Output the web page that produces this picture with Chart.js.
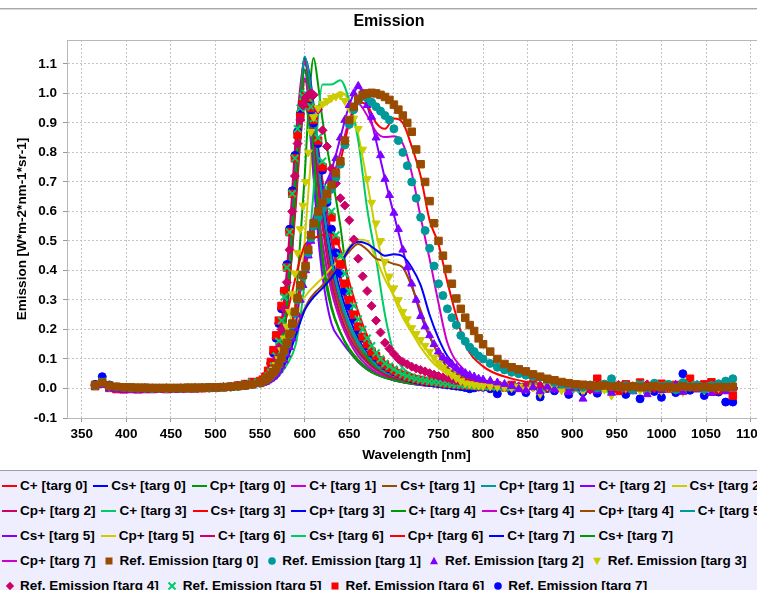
<!DOCTYPE html>
<html>
<head>
<meta charset="utf-8">
<script src="https://cdn.jsdelivr.net/npm/chart.js@4.4.0/dist/chart.umd.min.js"></script>
<style>
  html, body { margin: 0; padding: 0; background: #fff; }
  body { width: 757px; height: 590px; overflow: hidden; position: relative; font-family: "Liberation Sans", Arial, sans-serif; }
  #frameLine { position: absolute; left: 0; top: 8px; width: 778px; height: 1px; background: #a8a8a8; border-bottom: 1px solid #dadada; }
  #title { position: absolute; left: 0; top: 11px; width: 778px; height: 20px; line-height: 20px; text-align: center; font-weight: bold; font-size: 16px; color: #000; }
  #chartBox { position: absolute; left: 0; top: 10px; width: 778px; height: 460px; }
  #legend { position: absolute; left: 0; top: 470px; width: 778px; height: 120px; background: #eeeeff; border-top: 1px solid #a0a0a0; box-sizing: border-box; padding-top: 2px; padding-left: 2px; }
  .row { height: 25px; display: flex; align-items: center; white-space: nowrap; }
  .item { display: flex; align-items: center; margin-right: 6px; }
  .swatch { width: 15px; height: 10px; display: flex; align-items: center; justify-content: center; }
  .label { margin-left: 3px; font-weight: bold; font-size: 13.5px; color: #000; }
</style>
</head>
<body>
<div id="frameLine"></div>
<div id="chartBox"><canvas id="chart" width="778" height="460"></canvas></div>
<div id="title">Emission</div>
<div id="legend"></div>
<script>
// wavelengths of the fitted curves
const lineWavelengths = [365, 400, 450, 500, 530, 550, 560, 570, 580, 590,
  595, 600, 605, 610, 615, 620, 630, 640, 650, 660,
  670, 680, 690, 700, 710, 720, 730, 740, 750, 760,
  780, 800, 830, 860, 900, 950, 1000, 1050, 1085];

// wavelengths of the reference (measured) spectra
const refWavelengths = [
  365, 373, 381, 389, 397, 405, 413, 421, 429, 437, 445, 453, 461, 469, 477, 485, 493, 501, 509, 517, 525, 533, 541,
  550, 553, 556, 559, 562, 565, 568, 571, 574, 577, 580, 583, 586, 589, 592, 595, 598, 601, 604, 607, 610,
  615, 620, 625, 630, 635, 640, 645, 650, 655, 660, 665, 670, 675, 680, 685, 690, 695, 700, 705, 710,
  715, 720, 725, 730, 735, 740, 745, 750, 755, 760, 765, 770, 775, 780, 785, 790, 795, 800,
  808, 816, 824, 832, 840, 848, 856, 864, 872, 880, 888, 896, 904, 912, 920, 928, 936, 944, 952, 960,
  968, 976, 984, 992, 1000, 1008, 1016, 1024, 1032, 1040, 1048, 1056, 1064, 1072, 1080];

const xTickValues = [350, 400, 450, 500, 550, 600, 650, 700, 750, 800, 850, 900, 950, 1000, 1050, 1100];
const yTickValues = [-0.1, 0.0, 0.1, 0.2, 0.3, 0.4, 0.5, 0.6, 0.7, 0.8, 0.9, 1.0, 1.1];

// fitted curves
const cPlus0 = [0.012, 0.006, 0.003, 0.004, 0.008, 0.02, 0.04, 0.08, 0.15, 0.28,
  0.35, 0.42, 0.49, 0.55, 0.59, 0.62, 0.68, 0.77, 0.9, 0.97,
  0.96, 0.9, 0.88, 0.915, 0.9, 0.82, 0.72, 0.57, 0.49, 0.36,
  0.15, 0.075, 0.035, 0.018, 0.009, 0.005, 0.004, 0.003, 0.003];
const csPlus0 = [0.015, 0.006, 0.003, 0.003, 0.005, 0.01, 0.018, 0.05, 0.1, 0.18,
  0.225, 0.265, 0.29, 0.31, 0.325, 0.34, 0.375, 0.42, 0.475, 0.497,
  0.49, 0.47, 0.45, 0.455, 0.448, 0.41, 0.35, 0.25, 0.17, 0.11,
  0.05, 0.027, 0.012, 0.006, 0.003, 0.002, 0.002, 0.001, 0.001];
const cpPlus0 = [0.01, 0.005, 0.003, 0.003, 0.006, 0.015, 0.035, 0.09, 0.28, 0.72,
  0.94, 1.08, 1.0, 0.8, 0.6, 0.45, 0.28, 0.19, 0.13, 0.09,
  0.065, 0.048, 0.036, 0.028, 0.022, 0.017, 0.014, 0.011, 0.009, 0.007,
  0.005, 0.004, 0.003, 0.002, 0.002, 0.001, 0.001, 0.001, 0.001];
const cPlus1 = [0.012, 0.006, 0.003, 0.003, 0.007, 0.02, 0.045, 0.09, 0.16, 0.27,
  0.33, 0.4, 0.47, 0.53, 0.575, 0.615, 0.7, 0.8, 0.91, 0.965,
  0.925, 0.87, 0.852, 0.855, 0.83, 0.73, 0.58, 0.44, 0.29, 0.155,
  0.06, 0.03, 0.014, 0.007, 0.004, 0.003, 0.002, 0.002, 0.002];
const csPlus1 = [0.012, 0.006, 0.003, 0.003, 0.006, 0.012, 0.025, 0.06, 0.12, 0.2,
  0.24, 0.27, 0.3, 0.32, 0.335, 0.35, 0.385, 0.425, 0.465, 0.49,
  0.47, 0.44, 0.433, 0.422, 0.41, 0.345, 0.265, 0.18, 0.115, 0.072,
  0.035, 0.02, 0.01, 0.005, 0.003, 0.002, 0.002, 0.001, 0.001];
const cpPlus1 = [0.01, 0.005, 0.003, 0.003, 0.006, 0.015, 0.04, 0.1, 0.3, 0.75,
  0.97, 1.125, 1.06, 0.94, 0.78, 0.64, 0.44, 0.31, 0.22, 0.16,
  0.115, 0.082, 0.058, 0.042, 0.031, 0.023, 0.017, 0.013, 0.01, 0.008,
  0.006, 0.005, 0.004, 0.003, 0.002, 0.002, 0.001, 0.001, 0.001];
const cPlus2 = [0.012, 0.006, 0.003, 0.003, 0.006, 0.012, 0.02, 0.04, 0.1, 0.22,
  0.33, 0.44, 0.52, 0.58, 0.62, 0.67, 0.74, 0.85, 0.96, 1.02,
  0.96, 0.84, 0.71, 0.59, 0.47, 0.355, 0.25, 0.175, 0.12, 0.085,
  0.04, 0.02, 0.01, 0.005, 0.003, 0.002, 0.002, 0.001, 0.001];
const csPlus2 = [0.012, 0.006, 0.003, 0.003, 0.006, 0.012, 0.03, 0.09, 0.2, 0.28,
  0.3, 0.31, 0.33, 0.345, 0.36, 0.375, 0.41, 0.44, 0.48, 0.505,
  0.5, 0.44, 0.37, 0.315, 0.26, 0.2, 0.16, 0.12, 0.09, 0.065,
  0.04, 0.022, 0.01, 0.006, 0.003, 0.002, 0.002, 0.001, 0.001];
const cpPlus2 = [0.01, 0.005, 0.003, 0.003, 0.007, 0.02, 0.05, 0.14, 0.4, 0.85,
  1.02, 1.11, 1.02, 0.86, 0.69, 0.55, 0.36, 0.25, 0.175, 0.125,
  0.09, 0.064, 0.046, 0.034, 0.025, 0.019, 0.014, 0.011, 0.009, 0.007,
  0.005, 0.004, 0.003, 0.002, 0.002, 0.001, 0.001, 0.001, 0.001];
const cPlus3 = [0.01, 0.005, 0.003, 0.003, 0.005, 0.01, 0.02, 0.04, 0.08, 0.15,
  0.24, 0.36, 0.5, 0.67, 0.92, 1.03, 1.03, 1.045, 0.975, 0.84,
  0.61, 0.44, 0.25, 0.12, 0.07, 0.048, 0.034, 0.025, 0.018, 0.013,
  0.008, 0.006, 0.004, 0.003, 0.002, 0.002, 0.001, 0.001, 0.001];
const csPlus3 = [0.012, 0.006, 0.003, 0.003, 0.007, 0.018, 0.045, 0.11, 0.25, 0.38,
  0.44, 0.485, 0.5, 0.51, 0.515, 0.52, 0.525, 0.47, 0.36, 0.26,
  0.18, 0.12, 0.08, 0.056, 0.04, 0.03, 0.022, 0.016, 0.012, 0.009,
  0.006, 0.004, 0.003, 0.002, 0.002, 0.001, 0.001, 0.001, 0.001];
const cpPlus3 = [0.01, 0.005, 0.003, 0.003, 0.006, 0.015, 0.035, 0.09, 0.28, 0.72,
  0.96, 1.12, 1.07, 0.96, 0.8, 0.66, 0.46, 0.33, 0.24, 0.17,
  0.12, 0.085, 0.06, 0.043, 0.031, 0.023, 0.017, 0.013, 0.01, 0.008,
  0.006, 0.005, 0.004, 0.003, 0.002, 0.002, 0.001, 0.001, 0.001];
const cPlus4 = [0.01, 0.005, 0.003, 0.003, 0.005, 0.01, 0.02, 0.05, 0.12, 0.3,
  0.5, 0.72, 0.98, 1.12, 1.03, 0.91, 0.73, 0.55, 0.32, 0.17,
  0.105, 0.07, 0.048, 0.035, 0.026, 0.019, 0.014, 0.011, 0.009, 0.007,
  0.005, 0.004, 0.003, 0.002, 0.002, 0.001, 0.001, 0.001, 0.001];
const csPlus4 = [0.01, 0.005, 0.003, 0.003, 0.006, 0.015, 0.04, 0.11, 0.32, 0.75,
  0.95, 1.05, 0.96, 0.78, 0.62, 0.49, 0.33, 0.23, 0.16, 0.11,
  0.078, 0.055, 0.04, 0.03, 0.022, 0.017, 0.013, 0.01, 0.008, 0.006,
  0.004, 0.003, 0.002, 0.002, 0.001, 0.001, 0.001, 0.001, 0.001];
const cpPlus4 = [0.01, 0.005, 0.003, 0.003, 0.006, 0.014, 0.035, 0.09, 0.26, 0.65,
  0.88, 1.04, 1.02, 0.88, 0.7, 0.56, 0.38, 0.27, 0.19, 0.135,
  0.096, 0.068, 0.049, 0.036, 0.027, 0.02, 0.015, 0.012, 0.009, 0.007,
  0.005, 0.004, 0.003, 0.002, 0.002, 0.001, 0.001, 0.001, 0.001];
const cPlus5 = [0.01, 0.005, 0.003, 0.003, 0.006, 0.015, 0.04, 0.1, 0.3, 0.74,
  0.96, 1.1, 1.05, 0.93, 0.77, 0.63, 0.43, 0.3, 0.21, 0.15,
  0.105, 0.075, 0.053, 0.039, 0.029, 0.021, 0.016, 0.012, 0.009, 0.007,
  0.005, 0.004, 0.003, 0.002, 0.002, 0.001, 0.001, 0.001, 0.001];
const csPlus5 = [0.01, 0.005, 0.003, 0.003, 0.006, 0.015, 0.04, 0.11, 0.33, 0.78,
  0.98, 1.08, 0.95, 0.72, 0.52, 0.38, 0.22, 0.165, 0.125, 0.09,
  0.065, 0.048, 0.036, 0.028, 0.021, 0.016, 0.012, 0.009, 0.007, 0.006,
  0.004, 0.003, 0.002, 0.002, 0.001, 0.001, 0.001, 0.001, 0.001];
const cpPlus5 = [0.01, 0.005, 0.003, 0.003, 0.005, 0.01, 0.02, 0.04, 0.09, 0.2,
  0.32, 0.5, 0.7, 0.88, 0.94, 0.955, 0.975, 1.005, 0.97, 0.86,
  0.7, 0.53, 0.4, 0.31, 0.24, 0.19, 0.14, 0.1, 0.07, 0.05,
  0.025, 0.014, 0.007, 0.004, 0.003, 0.002, 0.001, 0.001, 0.001];
const cPlus6 = [0.01, 0.005, 0.003, 0.003, 0.006, 0.016, 0.04, 0.1, 0.27, 0.62,
  0.84, 0.97, 1.0, 0.93, 0.82, 0.7, 0.5, 0.36, 0.26, 0.19,
  0.14, 0.1, 0.072, 0.052, 0.038, 0.028, 0.021, 0.016, 0.012, 0.009,
  0.006, 0.004, 0.003, 0.002, 0.002, 0.001, 0.001, 0.001, 0.001];
const csPlus6 = [0.01, 0.005, 0.003, 0.003, 0.006, 0.014, 0.035, 0.09, 0.26, 0.64,
  0.84, 0.95, 0.9, 0.76, 0.61, 0.49, 0.34, 0.24, 0.17, 0.12,
  0.087, 0.063, 0.046, 0.034, 0.025, 0.019, 0.014, 0.011, 0.008, 0.006,
  0.004, 0.003, 0.002, 0.002, 0.001, 0.001, 0.001, 0.001, 0.001];
const cpPlus6 = [0.012, 0.006, 0.003, 0.003, 0.007, 0.02, 0.05, 0.13, 0.36, 0.78,
  0.93, 1.0, 0.98, 0.9, 0.8, 0.7, 0.52, 0.38, 0.28, 0.2,
  0.15, 0.11, 0.08, 0.06, 0.045, 0.034, 0.026, 0.02, 0.015, 0.012,
  0.008, 0.005, 0.003, 0.002, 0.002, 0.001, 0.001, 0.001, 0.001];
const cPlus7 = [0.01, 0.005, 0.003, 0.003, 0.006, 0.016, 0.04, 0.11, 0.31, 0.75,
  0.95, 1.05, 1.0, 0.88, 0.74, 0.61, 0.42, 0.3, 0.215, 0.155,
  0.11, 0.08, 0.058, 0.042, 0.031, 0.023, 0.017, 0.013, 0.01, 0.008,
  0.005, 0.004, 0.003, 0.002, 0.002, 0.001, 0.001, 0.001, 0.001];
const csPlus7 = [0.01, 0.005, 0.003, 0.003, 0.006, 0.015, 0.04, 0.11, 0.33, 0.76,
  0.93, 1.0, 0.9, 0.72, 0.55, 0.42, 0.27, 0.19, 0.135, 0.097,
  0.07, 0.051, 0.038, 0.028, 0.021, 0.016, 0.012, 0.009, 0.007, 0.005,
  0.004, 0.003, 0.002, 0.002, 0.001, 0.001, 0.001, 0.001, 0.001];
const cpPlus7 = [0.01, 0.005, 0.003, 0.003, 0.007, 0.018, 0.045, 0.12, 0.36, 0.8,
  0.99, 1.12, 1.05, 0.9, 0.73, 0.59, 0.4, 0.28, 0.2, 0.14,
  0.1, 0.072, 0.052, 0.038, 0.028, 0.021, 0.016, 0.012, 0.009, 0.007,
  0.005, 0.004, 0.003, 0.002, 0.002, 0.001, 0.001, 0.001, 0.001];

// reference spectra (flat part / rise / main band / tail)
const refEmission0 = [
  0.012, 0.02, 0.01, 0.006, 0.004, 0.004, 0.003, 0.003, 0.002, 0.002, 0.002, 0.002, 0.002, 0.003, 0.003, 0.003, 0.004, 0.004, 0.005, 0.006, 0.008, 0.01, 0.014,
  0.02, 0.024, 0.03, 0.037, 0.045, 0.055, 0.067, 0.085, 0.105, 0.13, 0.155, 0.185, 0.22, 0.26, 0.305, 0.35, 0.385, 0.415, 0.47, 0.52, 0.56,
  0.6, 0.63, 0.66, 0.69, 0.73, 0.77, 0.84, 0.91, 0.955, 0.98, 0.995, 1.0, 1.002, 1.0, 0.995, 0.988, 0.978, 0.962, 0.945, 0.925,
  0.9, 0.87, 0.81, 0.76, 0.7, 0.635, 0.56, 0.5, 0.45, 0.405, 0.355, 0.305, 0.27, 0.24, 0.215, 0.195, 0.17, 0.15,
  0.125, 0.1, 0.083, 0.072, 0.065, 0.058, 0.048, 0.04, 0.033, 0.028, 0.022, 0.018, 0.014, 0.012, 0.01, 0.008, 0.01, 0.006, 0.008, 0.005,
  0.007, 0.004, 0.006, 0.008, 0.004, 0.006, 0.003, 0.007, 0.005, 0.004, 0.006, 0.003, 0.005, 0.004, 0.006];
const refEmission1 = [
  0.01, 0.022, 0.008, 0.005, 0.003, 0.002, 0.001, 0.001, 0.0, 0.001, 0.0, 0.001, 0.0, 0.001, 0.001, 0.002, 0.002, 0.003, 0.004, 0.005, 0.007, 0.01, 0.014,
  0.018, 0.022, 0.028, 0.034, 0.042, 0.052, 0.063, 0.08, 0.1, 0.124, 0.15, 0.18, 0.215, 0.255, 0.3, 0.345, 0.38, 0.41, 0.46, 0.51, 0.55,
  0.58, 0.61, 0.64, 0.675, 0.715, 0.76, 0.825, 0.895, 0.945, 0.975, 0.99, 0.985, 0.97, 0.955, 0.94, 0.925, 0.91, 0.88, 0.84, 0.8,
  0.755, 0.7, 0.645, 0.58, 0.535, 0.475, 0.415, 0.355, 0.315, 0.27, 0.24, 0.215, 0.18, 0.16, 0.14, 0.125, 0.11, 0.1,
  0.085, 0.072, 0.063, 0.055, 0.05, 0.045, 0.04, 0.038, 0.03, 0.02, 0.015, 0.012, 0.01, 0.004, 0.012, 0.002, 0.015, 0.033, 0.006, 0.01,
  -0.005, 0.012, 0.004, 0.018, 0.008, 0.014, -0.004, 0.02, 0.006, 0.012, -0.003, 0.01, 0.016, 0.025, 0.033];
const refEmission2 = [
  0.006, 0.012, 0.0, -0.004, -0.006, -0.005, -0.006, -0.005, -0.004, -0.004, -0.003, -0.004, -0.003, -0.002, -0.003, -0.002, -0.001, 0.0, 0.001, 0.002, 0.004, 0.007, 0.01,
  0.014, 0.018, 0.022, 0.027, 0.033, 0.04, 0.05, 0.062, 0.077, 0.095, 0.115, 0.14, 0.17, 0.205, 0.25, 0.3, 0.35, 0.4, 0.45, 0.5, 0.55,
  0.6, 0.62, 0.65, 0.71, 0.78, 0.85, 0.91, 0.96, 1.0, 1.025, 1.0, 0.96, 0.92, 0.85, 0.79, 0.71, 0.655, 0.595, 0.54, 0.47,
  0.41, 0.355, 0.3, 0.245, 0.21, 0.18, 0.15, 0.125, 0.105, 0.095, 0.083, 0.07, 0.06, 0.052, 0.045, 0.04, 0.033, 0.03,
  0.026, 0.02, 0.015, 0.008, -0.002, -0.007, 0.004, -0.01, 0.006, -0.004, 0.01, -0.012, 0.002, -0.035, 0.005, -0.008, 0.012, -0.015, 0.003, 0.008,
  -0.01, 0.004, -0.02, 0.01, -0.006, 0.002, 0.012, -0.012, 0.006, -0.004, 0.008, -0.016, 0.004, -0.01, 0.0];
const refEmission3 = [
  0.008, 0.018, 0.006, 0.003, 0.002, 0.001, 0.001, 0.0, 0.0, 0.001, 0.0, 0.0, 0.001, 0.001, 0.001, 0.002, 0.002, 0.003, 0.004, 0.006, 0.008, 0.012, 0.017,
  0.02, 0.025, 0.03, 0.04, 0.05, 0.065, 0.08, 0.1, 0.13, 0.17, 0.21, 0.26, 0.32, 0.39, 0.46, 0.54, 0.62, 0.7, 0.8, 0.87, 0.92,
  0.95, 0.965, 0.975, 0.985, 0.99, 0.993, 0.975, 0.95, 0.915, 0.88, 0.81, 0.71, 0.63, 0.56, 0.5, 0.43, 0.38, 0.34, 0.3, 0.26,
  0.235, 0.205, 0.185, 0.165, 0.145, 0.125, 0.105, 0.085, 0.07, 0.057, 0.045, 0.035, 0.025, 0.018, 0.015, 0.012, 0.01, 0.008,
  0.007, 0.005, 0.004, 0.002, 0.006, -0.003, 0.004, -0.018, 0.008, 0.002, -0.006, 0.01, 0.004, -0.01, 0.012, 0.003, -0.004, -0.024, 0.008, 0.002,
  0.01, -0.006, 0.004, 0.012, -0.008, 0.006, 0.002, -0.012, 0.008, 0.004, -0.006, 0.01, 0.002, -0.004, 0.006];
const refEmission4 = [
  0.01, 0.02, 0.007, 0.004, 0.002, 0.002, 0.001, 0.001, 0.001, 0.0, 0.001, 0.0, 0.001, 0.001, 0.002, 0.002, 0.003, 0.003, 0.005, 0.006, 0.009, 0.013, 0.018,
  0.02, 0.025, 0.03, 0.04, 0.05, 0.07, 0.1, 0.14, 0.2, 0.27, 0.36, 0.47, 0.6, 0.72, 0.83, 0.91, 0.96, 0.985, 0.995, 1.0, 0.995,
  0.945, 0.875, 0.82, 0.745, 0.695, 0.645, 0.62, 0.57, 0.505, 0.44, 0.38, 0.33, 0.28, 0.23, 0.19, 0.155, 0.135, 0.117, 0.1, 0.09,
  0.082, 0.074, 0.068, 0.063, 0.058, 0.052, 0.047, 0.042, 0.038, 0.035, 0.03, 0.027, 0.024, 0.022, 0.02, 0.018, 0.016, 0.014,
  0.012, 0.01, 0.009, 0.008, 0.006, 0.008, 0.004, 0.01, 0.002, 0.006, 0.012, 0.0, 0.008, 0.004, -0.004, 0.01, 0.006, 0.002, 0.012, -0.002,
  0.008, 0.004, 0.014, 0.0, 0.006, 0.01, -0.006, 0.008, 0.004, 0.012, 0.002, 0.006, -0.004, 0.01, 0.004];
const refEmission5 = [
  0.012, 0.024, 0.009, 0.005, 0.003, 0.003, 0.002, 0.002, 0.002, 0.001, 0.002, 0.001, 0.002, 0.002, 0.002, 0.003, 0.003, 0.004, 0.005, 0.007, 0.01, 0.014, 0.02,
  0.02, 0.025, 0.032, 0.042, 0.055, 0.075, 0.11, 0.16, 0.23, 0.31, 0.41, 0.53, 0.66, 0.78, 0.88, 0.95, 0.99, 1.0, 0.985, 0.955, 0.915,
  0.85, 0.77, 0.68, 0.6, 0.52, 0.45, 0.39, 0.33, 0.28, 0.235, 0.2, 0.17, 0.145, 0.12, 0.1, 0.085, 0.075, 0.065, 0.056, 0.048,
  0.042, 0.037, 0.033, 0.03, 0.027, 0.024, 0.022, 0.02, 0.018, 0.016, 0.014, 0.013, 0.012, 0.011, 0.01, 0.009, 0.008, 0.008,
  0.007, 0.006, 0.005, 0.004, 0.006, 0.002, 0.008, 0.004, 0.0, 0.006, 0.01, 0.002, -0.004, 0.008, 0.004, 0.012, -0.002, 0.006, 0.01, 0.0,
  0.008, 0.014, -0.004, 0.006, 0.01, 0.002, 0.008, -0.006, 0.012, 0.004, 0.008, 0.0, 0.01, 0.016, 0.006];
const refEmission6 = [
  0.008, 0.016, 0.002, -0.002, -0.003, -0.002, -0.003, -0.002, -0.002, -0.001, -0.002, -0.001, -0.001, 0.0, 0.0, 0.001, 0.002, 0.003, 0.004, 0.006, 0.01, 0.015, 0.022,
  0.025, 0.03, 0.04, 0.06, 0.09, 0.13, 0.18, 0.23, 0.28, 0.33, 0.41, 0.53, 0.66, 0.78, 0.86, 0.92, 0.965, 0.99, 0.985, 0.95, 0.91,
  0.84, 0.75, 0.65, 0.58, 0.5, 0.42, 0.355, 0.3, 0.25, 0.21, 0.175, 0.15, 0.125, 0.11, 0.095, 0.08, 0.07, 0.06, 0.052, 0.046,
  0.04, 0.036, 0.032, 0.029, 0.026, 0.024, 0.022, 0.02, 0.018, 0.016, 0.015, 0.013, 0.012, 0.011, 0.01, 0.009, 0.008, 0.008,
  0.008, 0.01, 0.004, 0.012, 0.002, 0.006, 0.016, -0.004, 0.01, 0.004, 0.018, -0.006, 0.006, 0.012, 0.0, 0.033, 0.004, 0.01, -0.008, 0.014,
  0.006, 0.02, -0.004, 0.008, 0.016, 0.0, 0.012, 0.006, 0.033, 0.004, 0.014, 0.021, -0.006, 0.01, -0.024];
const refEmission7 = [
  0.014, 0.04, 0.012, 0.004, 0.002, 0.001, 0.0, 0.001, 0.0, 0.0, 0.001, 0.0, 0.001, 0.001, 0.001, 0.002, 0.002, 0.003, 0.004, 0.006, 0.009, 0.014, 0.02,
  0.022, 0.028, 0.038, 0.055, 0.085, 0.12, 0.17, 0.22, 0.27, 0.33, 0.42, 0.54, 0.67, 0.79, 0.87, 0.93, 0.97, 0.99, 0.98, 0.945, 0.9,
  0.83, 0.74, 0.63, 0.54, 0.46, 0.39, 0.33, 0.28, 0.235, 0.2, 0.17, 0.145, 0.12, 0.105, 0.09, 0.076, 0.066, 0.057, 0.05, 0.044,
  0.038, 0.033, 0.029, 0.026, 0.023, 0.02, 0.018, 0.016, 0.014, 0.012, 0.01, 0.008, 0.006, 0.003, -0.001, 0.002, 0.005, 0.004,
  -0.001, -0.018, 0.004, -0.01, 0.006, -0.014, 0.008, -0.029, 0.0, -0.008, 0.01, -0.02, 0.004, -0.012, 0.006, -0.016, 0.01, -0.006, 0.002, -0.02,
  0.006, -0.035, 0.002, -0.01, -0.03, 0.008, -0.014, 0.05, -0.006, 0.004, -0.024, 0.002, -0.012, -0.046, -0.046];

const lineNames = ['C+ [targ 0]', 'Cs+ [targ 0]', 'Cp+ [targ 0]', 'C+ [targ 1]', 'Cs+ [targ 1]', 'Cp+ [targ 1]',
  'C+ [targ 2]', 'Cs+ [targ 2]', 'Cp+ [targ 2]', 'C+ [targ 3]', 'Cs+ [targ 3]', 'Cp+ [targ 3]',
  'C+ [targ 4]', 'Cs+ [targ 4]', 'Cp+ [targ 4]', 'C+ [targ 5]', 'Cs+ [targ 5]', 'Cp+ [targ 5]',
  'C+ [targ 6]', 'Cs+ [targ 6]', 'Cp+ [targ 6]', 'C+ [targ 7]', 'Cs+ [targ 7]', 'Cp+ [targ 7]'];
const lineValues = [cPlus0, csPlus0, cpPlus0, cPlus1, csPlus1, cpPlus1, cPlus2, csPlus2, cpPlus2,
  cPlus3, csPlus3, cpPlus3, cPlus4, csPlus4, cpPlus4, cPlus5, csPlus5, cpPlus5,
  cPlus6, csPlus6, cpPlus6, cPlus7, csPlus7, cpPlus7];
const refNames = ['Ref. Emission [targ 0]', 'Ref. Emission [targ 1]', 'Ref. Emission [targ 2]', 'Ref. Emission [targ 3]',
  'Ref. Emission [targ 4]', 'Ref. Emission [targ 5]', 'Ref. Emission [targ 6]', 'Ref. Emission [targ 7]'];
const refValues = [refEmission0, refEmission1, refEmission2, refEmission3, refEmission4, refEmission5, refEmission6, refEmission7];

// styles
const palette = ['#FF0000', '#0000FF', '#009900', '#CC00CC', '#994C00', '#009999', '#7F00FF', '#CCCC00', '#CC0066', '#00CC66'];
const refPointStyles = ['rect', 'circle', 'triangle', 'triangle', 'rectRot', 'crossRot', 'rect', 'circle'];
const refPointRotation = [0, 0, 0, 180, 0, 0, 0, 0];
const refPointRadius = [5.3, 4, 4.6, 4.6, 4.5, 5, 5.3, 4];
const legendRowSizes = [8, 8, 7, 5, 4];

const seriesColor = i => palette[i % palette.length];
const tickFont = { family: '"Liberation Sans", Arial, sans-serif', size: 13.5, weight: 'bold' };

const datasets = [];
lineValues.forEach((vals, i) => {
  datasets.push({
    label: lineNames[i],
    data: vals.map((v, k) => ({ x: lineWavelengths[k], y: v })),
    showLine: true,
    borderColor: seriesColor(i),
    backgroundColor: seriesColor(i),
    borderWidth: 2,
    pointRadius: 0,
    cubicInterpolationMode: 'monotone',
    order: 1
  });
});
refValues.forEach((vals, j) => {
  const c = seriesColor(lineValues.length + j);
  datasets.push({
    label: refNames[j],
    data: vals.map((v, k) => ({ x: refWavelengths[k], y: v })),
    showLine: false,
    pointStyle: refPointStyles[j],
    pointRotation: refPointRotation[j],
    pointRadius: refPointRadius[j],
    pointBackgroundColor: c,
    pointBorderColor: c,
    pointBorderWidth: refPointStyles[j] === 'crossRot' ? 2 : 1,
    borderColor: c,
    backgroundColor: c,
    order: 0
  });
});

// light outline round the plot area
const plotOutline = {
  id: 'plotOutline',
  beforeDatasetsDraw(chart) {
    const { ctx, chartArea: a } = chart;
    ctx.save();
    ctx.strokeStyle = '#b8b8b8';
    ctx.lineWidth = 1;
    ctx.strokeRect(Math.round(a.left) + 0.5, Math.round(a.top) + 0.5, a.width, a.height);
    ctx.restore();
  }
};

const chart = new Chart(document.getElementById('chart'), {
  type: 'scatter',
  data: { datasets: datasets },
  plugins: [plotOutline],
  options: {
    responsive: false,
    animation: false,
    layout: { padding: { left: 0, right: 12, top: 30, bottom: 0 } },
    plugins: {
      legend: { display: false },
      tooltip: { enabled: false },
      title: { display: false }
    },
    scales: {
      x: {
        type: 'linear',
        min: 333.5,
        max: 1117.2,
        afterBuildTicks: s => { s.ticks = xTickValues.map(v => ({ value: v })); },
        afterFit: s => { s.height = 52; },
        grid: { color: '#c4c4c4', tickColor: '#999', tickLength: 4, tickBorderDash: [] },
        border: { color: '#999', dash: [2, 2] },
        ticks: { color: '#000', font: tickFont, padding: 4, maxRotation: 0, callback: v => String(v) },
        title: { display: true, text: 'Wavelength [nm]', color: '#000', font: tickFont, padding: { top: 0, bottom: 7 } }
      },
      y: {
        type: 'linear',
        min: -0.1,
        max: 1.181,
        afterBuildTicks: s => { s.ticks = yTickValues.map(v => ({ value: v })); },
        afterFit: s => { s.width = 67; },
        grid: { color: '#c4c4c4', tickColor: '#999', tickLength: 4, tickBorderDash: [] },
        border: { color: '#999', dash: [2, 2] },
        ticks: { color: '#000', font: tickFont, padding: 6, callback: v => Number(v).toFixed(1) },
        title: { display: true, text: 'Emission [W*m-2*nm-1*sr-1]', color: '#000', font: tickFont, padding: { top: 14, bottom: 0 } }
      }
    }
  }
});

// legend below the chart, built from the chart's datasets
function legendSymbol(ds) {
  const c = ds.borderColor;
  const ns = 'http://www.w3.org/2000/svg';
  const svg = document.createElementNS(ns, 'svg');
  svg.setAttribute('width', '10');
  svg.setAttribute('height', '10');
  let shape;
  if (ds.pointStyle === 'rect') {
    shape = document.createElementNS(ns, 'rect');
    shape.setAttribute('x', '1.5'); shape.setAttribute('y', '1.5');
    shape.setAttribute('width', '7'); shape.setAttribute('height', '7');
  } else if (ds.pointStyle === 'circle') {
    shape = document.createElementNS(ns, 'circle');
    shape.setAttribute('cx', '5'); shape.setAttribute('cy', '5'); shape.setAttribute('r', '3.8');
  } else if (ds.pointStyle === 'triangle') {
    shape = document.createElementNS(ns, 'polygon');
    shape.setAttribute('points', ds.pointRotation === 180 ? '1,1.7 9,1.7 5,9.2' : '5,0.8 9,8.3 1,8.3');
  } else if (ds.pointStyle === 'rectRot') {
    shape = document.createElementNS(ns, 'polygon');
    shape.setAttribute('points', '5,0.8 9.2,5 5,9.2 0.8,5');
  } else {
    shape = document.createElementNS(ns, 'path');
    shape.setAttribute('d', 'M1.5 1.5 L8.5 8.5 M8.5 1.5 L1.5 8.5');
    shape.setAttribute('stroke', c);
    shape.setAttribute('stroke-width', '2');
  }
  if (ds.pointStyle !== 'crossRot') shape.setAttribute('fill', c);
  svg.appendChild(shape);
  return svg;
}

const legendEl = document.getElementById('legend');
let idx = 0;
legendRowSizes.forEach(n => {
  const row = document.createElement('div');
  row.className = 'row';
  for (let k = 0; k < n && idx < chart.data.datasets.length; k++, idx++) {
    const ds = chart.data.datasets[idx];
    const item = document.createElement('div');
    item.className = 'item';
    const sw = document.createElement('div');
    sw.className = 'swatch';
    if (ds.showLine) {
      const bar = document.createElement('span');
      bar.style.cssText = 'display:block;width:15px;height:2px;background:' + ds.borderColor;
      sw.appendChild(bar);
    } else {
      sw.appendChild(legendSymbol(ds));
    }
    const lab = document.createElement('span');
    lab.className = 'label';
    lab.textContent = ds.label;
    item.appendChild(sw);
    item.appendChild(lab);
    row.appendChild(item);
  }
  legendEl.appendChild(row);
});
</script>
</body>
</html>
